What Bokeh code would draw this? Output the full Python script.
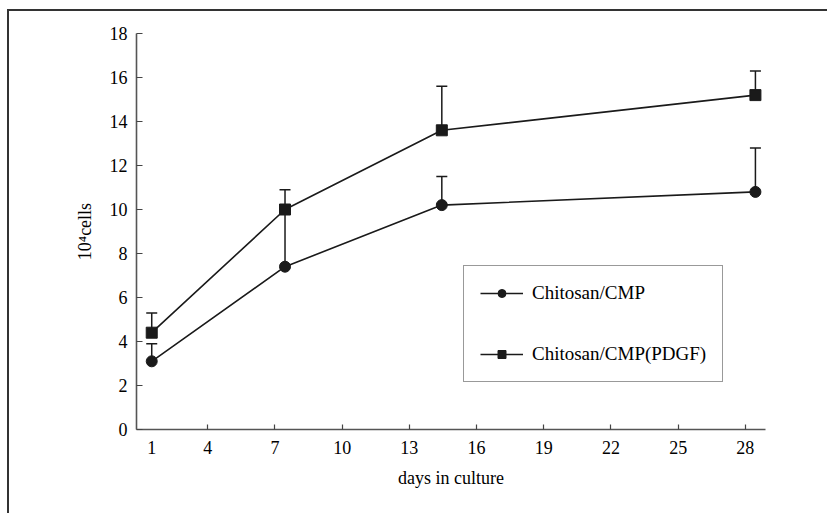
from bokeh.plotting import figure
from bokeh.models import (ColumnDataSource, Whisker, TeeHead, Legend, LegendItem,
                          FixedTicker)
from bokeh.embed import file_html
from bokeh.resources import INLINE

# ---- data ----
days = [1.5, 7.45, 14.45, 28.45]
chitosan_cmp = [3.1, 7.4, 10.2, 10.8]
chitosan_cmp_err = [0.8, 2.6, 1.3, 2.0]
chitosan_pdgf = [4.4, 10.0, 13.6, 15.2]
chitosan_pdgf_err = [0.9, 0.9, 2.0, 1.1]
x_tick_vals = [1.5, 4, 7, 10, 13, 16, 19, 22, 25, 28]
x_tick_labels = ["1", "4", "7", "10", "13", "16", "19", "22", "25", "28"]
x_minor_vals = [4, 7, 10, 13, 16, 19, 22, 25, 28]
y_tick_vals = [0, 2, 4, 6, 8, 10, 12, 14, 16, 18]

FONT = "Liberation Serif"
INK = "#1a1a1a"

# the figure sits at (7, 9) in the window with a left/top panel border
p = figure(width=820, height=504, output_backend="svg", toolbar_location=None,
           x_range=(0.82, 28.9), y_range=(0, 18),
           margin=(9, 0, 0, 7),
           styles={"border-left": "2px solid #333333",
                   "border-top": "2px solid #333333",
                   "background-color": "white"},
           min_border_left=127, min_border_right=64,
           min_border_top=22, min_border_bottom=86)
p.outline_line_color = None
p.xgrid.visible = False
p.ygrid.visible = False
p.background_fill_color = "white"
p.border_fill_color = "white"

src1 = ColumnDataSource(dict(x=days, y=chitosan_cmp,
                             upper=[v + e for v, e in zip(chitosan_cmp, chitosan_cmp_err)]))
src2 = ColumnDataSource(dict(x=days, y=chitosan_pdgf,
                             upper=[v + e for v, e in zip(chitosan_pdgf, chitosan_pdgf_err)]))

for src in (src1, src2):
    w = Whisker(source=src, base="x", upper="upper", lower="y", dimension="height",
                line_color=INK, line_width=1.5,
                upper_head=TeeHead(size=11, line_color=INK, line_width=1.5),
                lower_head=None)
    p.add_layout(w)

l1 = p.line("x", "y", source=src1, line_color=INK, line_width=1.6)
m1 = p.scatter("x", "y", source=src1, marker="circle", size=11,
               fill_color=INK, line_color=INK)
l2 = p.line("x", "y", source=src2, line_color=INK, line_width=1.6)
m2 = p.scatter("x", "y", source=src2, marker="square", size=11,
               fill_color=INK, line_color=INK)

legend = Legend(items=[LegendItem(label="Chitosan/CMP", renderers=[l1, m1]),
                       LegendItem(label="Chitosan/CMP(PDGF)", renderers=[l2, m2])],
                location=(327, 47), orientation="vertical",
                label_text_font=FONT, label_text_font_size="19px",
                label_text_color="black",
                glyph_width=43, glyph_height=20, label_height=20,
                label_standoff=9, spacing=39, padding=16, margin=0,
                border_line_color="#333333", border_line_width=1.5,
                background_fill_color="white", background_fill_alpha=1)
p.add_layout(legend, "center")

# axes
p.xaxis.ticker = FixedTicker(ticks=x_tick_vals, minor_ticks=x_minor_vals)
p.xaxis.major_label_overrides = {v: s for v, s in zip(x_tick_vals, x_tick_labels)}
p.xaxis.major_tick_in = 0
p.xaxis.major_tick_out = 0
p.xaxis.minor_tick_in = 5
p.xaxis.minor_tick_out = 0
p.xaxis.minor_tick_line_color = "#444444"
p.xaxis.minor_tick_line_width = 1.2
p.xaxis.axis_label = "days in culture"
p.xaxis.major_label_standoff = 11
p.xaxis.axis_label_standoff = 11

p.yaxis.ticker = FixedTicker(ticks=y_tick_vals, minor_ticks=[])
p.yaxis.major_tick_in = 6
p.yaxis.major_tick_out = 0
p.yaxis.major_tick_line_color = "#444444"
p.yaxis.major_tick_line_width = 1.2
p.yaxis.minor_tick_line_color = None
p.yaxis.axis_label = "10\u2074cells"
p.yaxis.major_label_standoff = 9
p.yaxis.axis_label_standoff = 12

for ax in (p.xaxis, p.yaxis):
    ax.axis_line_color = "#555555"
    ax.axis_line_width = 1.6
    ax.major_label_text_font = FONT
    ax.major_label_text_font_size = "18px"
    ax.major_label_text_color = "black"
    ax.axis_label_text_font = FONT
    ax.axis_label_text_font_size = "18px"
    ax.axis_label_text_font_style = "normal"
    ax.axis_label_text_color = "black"

open("out.html", "w").write(file_html(p, INLINE))
